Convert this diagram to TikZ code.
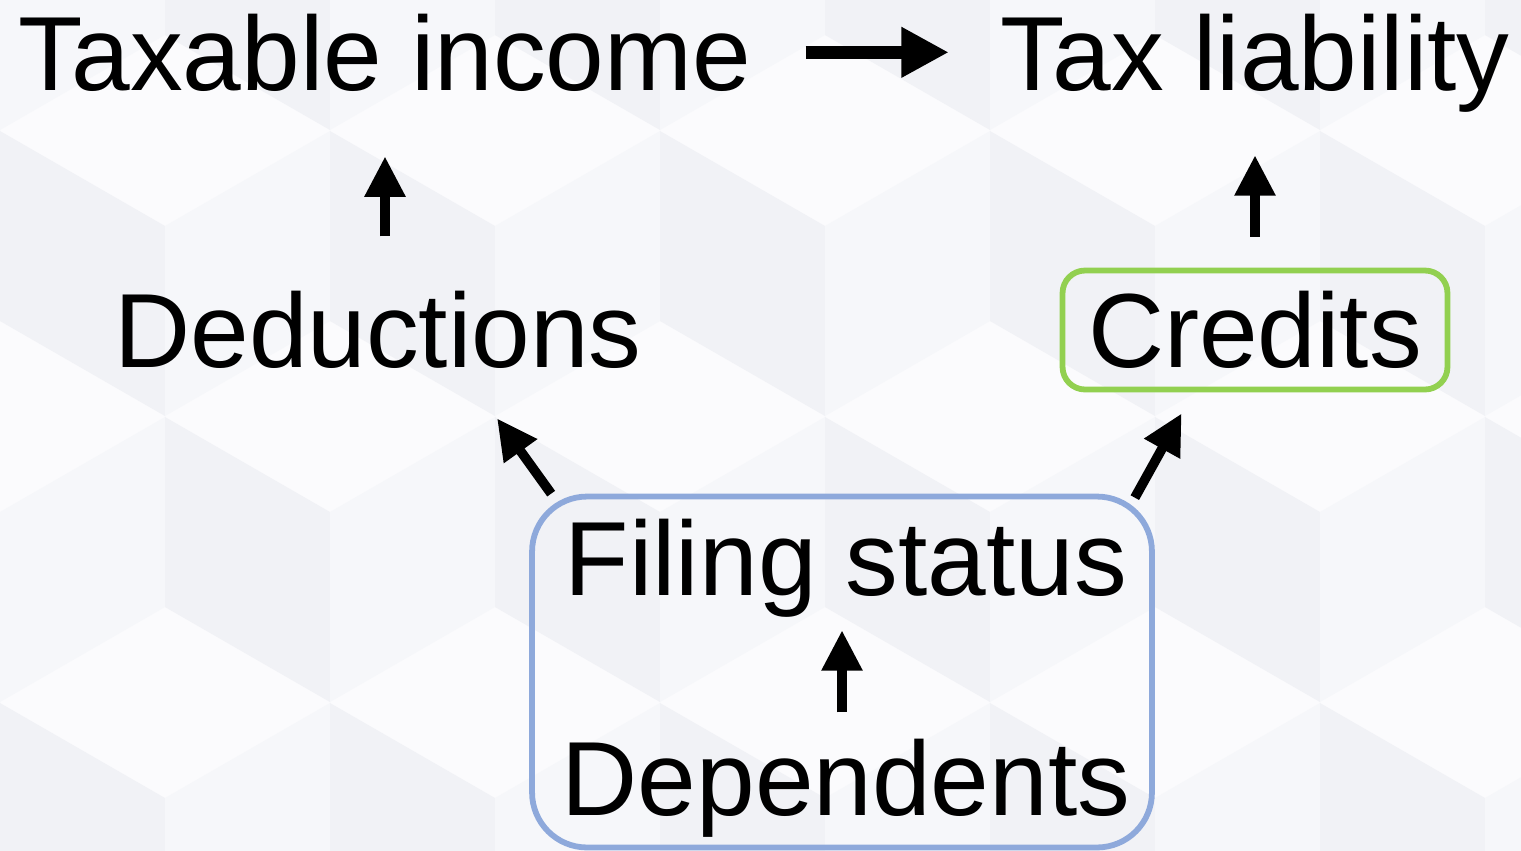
\documentclass[tikz,border=0pt]{standalone}
\usepackage{fontspec}
\setmainfont{Liberation Sans}
\usepackage{tikz}
\usetikzlibrary{arrows.meta,calc,positioning}
\usepackage{xcolor}
\definecolor{credgreen}{RGB}{146,208,80}
\definecolor{statblue}{RGB}{142,169,219}
\definecolor{bgtop}{RGB}{251,251,253}
\definecolor{bgleft}{RGB}{241,242,246}
\definecolor{bgright}{RGB}{246,247,250}
\tikzstyle{term} = [font=\fontsize{60}{70}\selectfont, inner sep=0pt, text=black]
\tikzstyle{credbox} = [rectangle, rounded corners=0.45cm, minimum width=7.7cm, minimum height=2.38cm, draw=credgreen, line width=3.3pt]
\tikzstyle{statbox} = [rectangle, rounded corners=1.1cm, minimum width=12.4cm, minimum height=7.02cm, draw=statblue, line width=3.3pt]
\tikzstyle{arrow} = [line width=5.5pt, -{Triangle[length=23pt,width=22pt]}, black]
\tikzstyle{bigarrow} = [line width=7.5pt, -{Triangle[length=27pt,width=27pt]}, black]

\begin{document}
\begin{tikzpicture}[x=0.02cm,y=-0.02cm]
\useasboundingbox (0,0) rectangle (1521,850);

% Background of faint cubes
\begin{scope}
\clip (0,0) rectangle (1521,850);
\fill[bgtop] (0,0) rectangle (1521,850);
\foreach \r in {0,...,4}{
  \foreach \c in {-1,...,5}{
    \pgfmathsetmacro{\cx}{\c*330+mod(\r,2)*165}
    \pgfmathsetmacro{\cy}{\r*286-60}
    \fill[bgtop] (\cx,\cy-190) -- (\cx+165,\cy-95) -- (\cx,\cy) -- (\cx-165,\cy-95) -- cycle;
    \fill[bgleft] (\cx-165,\cy-95) -- (\cx,\cy) -- (\cx,\cy+190) -- (\cx-165,\cy+95) -- cycle;
    \fill[bgright] (\cx,\cy) -- (\cx+165,\cy-95) -- (\cx+165,\cy+95) -- (\cx,\cy+190) -- cycle;
  }
}
\end{scope}

% Top row
\node[term, anchor=base] (taxinc) at (385,90) {Taxable income};
\node[term, anchor=base] (taxliab) at (1255,90) {Tax liability};

% Middle row
\node[term, anchor=base] (deduct) at (378,367) {Deductions};
\node[term, credbox] (credits) at (1255,330) {Credits};

% Filing status box
\node[statbox] (status) at (842,672) {};
\node[term, anchor=base] (filing) at (846,595) {Filing status};
\node[term, anchor=base] (depend) at (846,815) {Dependents};

% Connections
\draw[bigarrow, shorten <=1.08cm, shorten >=1.02cm] (taxinc.east) -- (taxinc.east -| taxliab.west);
\draw[arrow, shorten <=1.08cm, shorten >=1.3cm] (deduct.north -| taxinc.south) -- (taxinc.south);
\draw[arrow, shorten <=0.62cm, shorten >=0.86cm] (credits.north) -- (credits.north |- taxliab.south);
\draw[arrow] ($(status.north west)+(22,0)$) -- ($(deduct.south east)+(-145,50)$);
\draw[arrow] ($(status.north east)+(-20,4)$) -- ($(credits.south west)+(122,21)$);
\draw[arrow, shorten <=0.52cm, shorten >=0.26cm] (depend.north -| status.north) -- (filing.south -| status.north);
\end{tikzpicture}
\end{document}
